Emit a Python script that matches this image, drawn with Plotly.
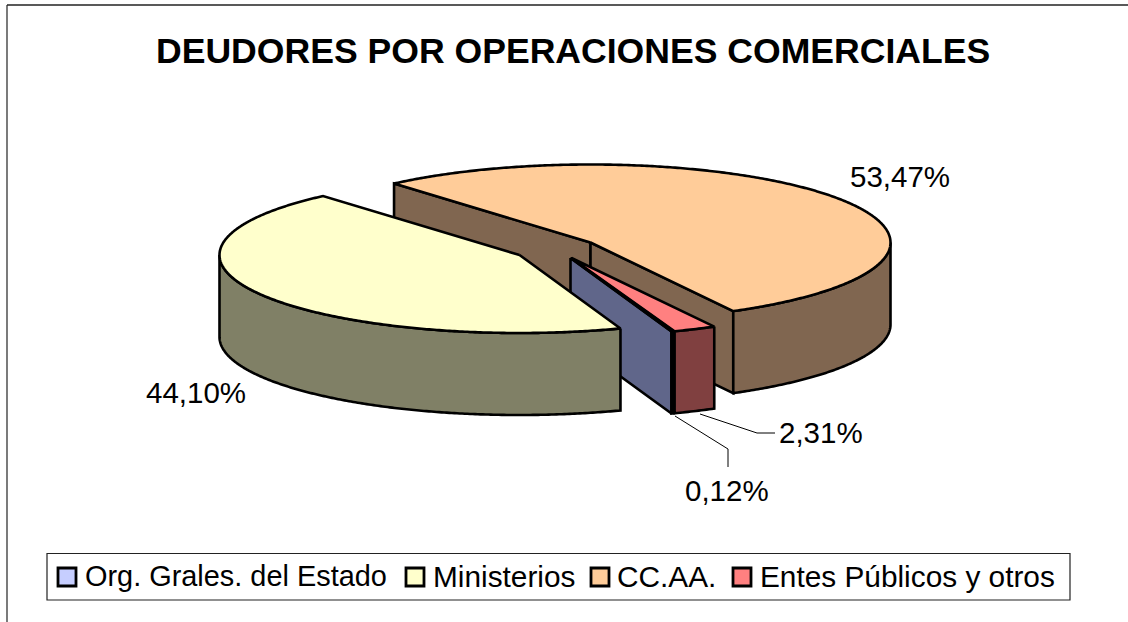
import numpy as np
import plotly.graph_objects as go

# ---- data ----
categories = ["Org. Grales. del Estado", "Ministerios", "CC.AA.", "Entes Públicos y otros"]
shares = [0.12, 44.10, 53.47, 2.31]
value_labels = ["0,12%", "44,10%", "53,47%", "2,31%"]
top_colors = ["#C6CEFF", "#FFFFCC", "#FFCC99", "#FF8080"]
side_colors = ["#60668A", "#808066", "#806650", "#804040"]

# ---- projection of the tilted pie (page pixels) ----
CX, CY = 590.5, 242.5
RX, RY = 300.0, 78.0
DEPTH = 82.0
FIRST_ANGLE = 159.9           # clockwise from 12 o'clock
EXPLODE = [(-20, 15.5), (-71, 12.5), (0, 0), (-19, 15.5)]
LW = 2.6


def rim(deg, off, dy=0.0):
    t = np.radians(deg)
    return CX + off[0] + RX * np.sin(t), CY + off[1] - RY * np.cos(t) + dy


def arc(a, b, off, dy=0.0):
    ts = np.linspace(a, b, max(2, int(abs(b - a) * 2)))
    xs, ys = rim(ts, off, dy)
    return list(map(float, xs)), list(map(float, ys))


spans = []
acc = FIRST_ANGLE
for v in shares:
    spans.append((acc, acc + v * 3.6))
    acc += v * 3.6

fig = go.Figure()


def poly(xs, ys, color):
    fig.add_trace(go.Scatter(x=xs + xs[:1], y=ys + ys[:1], mode="lines", fill="toself",
                             fillcolor=color, line=dict(color="black", width=LW, simplify=False),
                             showlegend=False, hoverinfo="skip"))


def outer_wall(a, b, off, color):
    x1, y1 = arc(a, b, off)
    x2, y2 = arc(b, a, off, DEPTH)
    poly(x1 + x2, y1 + y2, color)


def cut_wall(deg, off, color):
    ax, ay = CX + off[0], CY + off[1]
    rx, ry = rim(deg, off)
    poly([ax, float(rx), float(rx), ax], [ay, float(ry), float(ry) + DEPTH, ay + DEPTH], color)


def top(a, b, off, color):
    xs, ys = arc(a, b, off)
    poly([CX + off[0]] + xs, [CY + off[1]] + ys, color)


ORG, MIN, CCAA, ENTES = 0, 1, 2, 3

# CC.AA. runs over 12 o'clock, so its angles are taken one turn on
a, b = spans[CCAA]
cut_wall(a, EXPLODE[CCAA], side_colors[CCAA])
cut_wall(b, EXPLODE[CCAA], side_colors[CCAA])
outer_wall(450, b, EXPLODE[CCAA], side_colors[CCAA])
top(a, b, EXPLODE[CCAA], top_colors[CCAA])

# Entes
a, b = spans[ENTES]
outer_wall(a, b, EXPLODE[ENTES], side_colors[ENTES])
top(a, b, EXPLODE[ENTES], top_colors[ENTES])

# Org.
a, b = spans[ORG]
cut_wall(b, EXPLODE[ORG], side_colors[ORG])
outer_wall(a, b, EXPLODE[ORG], side_colors[ORG])
top(a, b, EXPLODE[ORG], top_colors[ORG])

# Ministerios
a, b = spans[MIN]
outer_wall(a, 270, EXPLODE[MIN], side_colors[MIN])
top(a, b, EXPLODE[MIN], top_colors[MIN])

FONT = "Liberation Sans, Arial, sans-serif"
thin = dict(color="black", width=1)
shapes = [
    dict(type="line", x0=7, y0=5, x1=1128, y1=5, line=dict(color="#222222", width=1.6)),
    dict(type="line", x0=7, y0=5, x1=7, y1=622, line=dict(color="#222222", width=1.2)),
    dict(type="rect", x0=47, y0=553.5, x1=1070, y1=600, line=dict(color="#222222", width=1.2)),
    dict(type="line", x0=700, y0=414, x1=757, y1=433, line=thin),
    dict(type="line", x0=757, y0=433, x1=775, y1=433, line=thin),
    dict(type="line", x0=675, y0=416, x1=728, y1=449, line=thin),
    dict(type="line", x0=728, y0=449, x1=728, y1=467, line=thin),
]


def label(x, y, text, size=29.5, bold=False, anchor="center"):
    return dict(x=x, y=y, text=f"<b>{text}</b>" if bold else text, showarrow=False,
                xanchor=anchor, yanchor="middle", font=dict(family=FONT, size=size, color="black"))


annotations = [label(572.5, 50.5, "DEUDORES POR OPERACIONES COMERCIALES", size=35.6, bold=True)]
label_pos = [(727, 490), (196, 392), (899.5, 176), (820.5, 432)]
for (x, y), t in zip(label_pos, value_labels):
    annotations.append(label(x, y, t))

swatch_x = [67, 415, 600, 742]
text_x = [83, 431, 615, 758]
text_size = [28.9, 29.8, 29.8, 29.8]
for n, c, sx, tx, sz in zip(categories, top_colors, swatch_x, text_x, text_size):
    fig.add_trace(go.Scatter(x=[sx], y=[577], mode="markers", showlegend=False, hoverinfo="skip",
                             marker=dict(symbol="square", size=18, color=c, line=dict(color="black", width=2.8))))
    annotations.append(label(tx, 576, n, size=sz, anchor="left"))

fig.update_layout(
    width=1128, height=622, margin=dict(l=0, r=0, t=0, b=0), showlegend=False,
    paper_bgcolor="white", plot_bgcolor="white", shapes=shapes, annotations=annotations,
    xaxis=dict(range=[0, 1128], visible=False, fixedrange=True),
    yaxis=dict(range=[622, 0], visible=False, fixedrange=True),
)
fig.write_html("out.html", config=dict(displayModeBar=False),
               post_script="document.body.style.margin='0';document.body.style.overflow='hidden';")
